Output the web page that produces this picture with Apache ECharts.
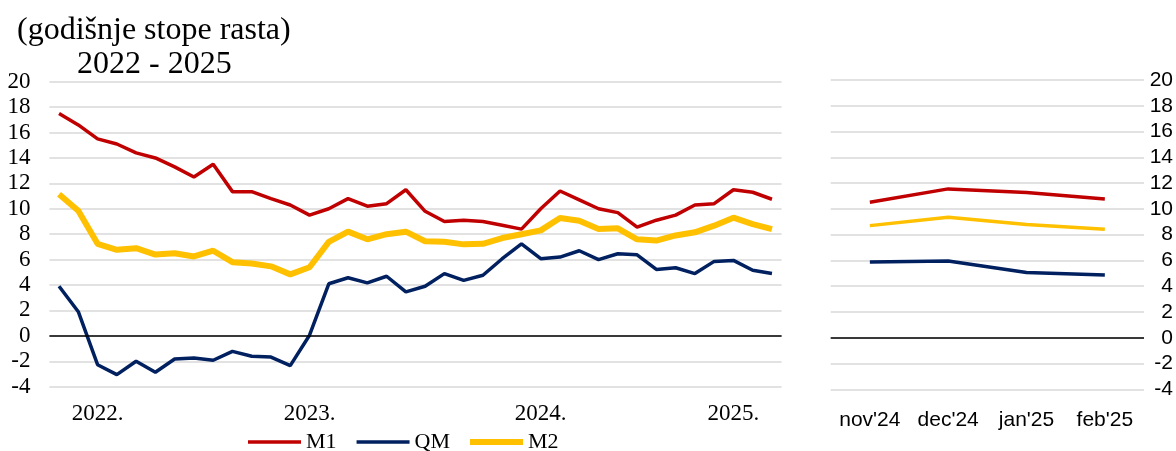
<!DOCTYPE html>
<html>
<head>
<meta charset="utf-8">
<script src="https://cdn.jsdelivr.net/npm/echarts@6/dist/echarts.min.js"></script>
<style>
  html, body { margin: 0; padding: 0; background: #fff; }
  #chart { width: 1176px; height: 451px; }
</style>
</head>
<body>
<div id="chart"></div>
<script>
// monthly categories, jan 2022 - feb 2025
var months = [
  '2022-01','2022-02','2022-03','2022-04','2022-05','2022-06','2022-07','2022-08','2022-09','2022-10','2022-11','2022-12',
  '2023-01','2023-02','2023-03','2023-04','2023-05','2023-06','2023-07','2023-08','2023-09','2023-10','2023-11','2023-12',
  '2024-01','2024-02','2024-03','2024-04','2024-05','2024-06','2024-07','2024-08','2024-09','2024-10','2024-11','2024-12',
  '2025-01','2025-02'
];
// where the year labels sit on the left axis
var yearLabelPos = [2, 13, 25, 35];
var yearLabels = ['2022.', '2023.', '2024.', '2025.'];

var m1 = [17.5,16.6,15.5,15.1,14.4,14.0,13.3,12.5,13.5,11.35,11.35,10.8,10.3,
  9.5,10.0,10.8,10.2,10.4,11.5,9.8,9.0,9.1,9.0,8.7,8.4,
  10.0,11.4,10.7,10.0,9.7,8.55,9.1,9.5,10.3,10.4,11.5,11.3,10.75];
var qm = [3.9,1.9,-2.27,-3.05,-2.0,-2.86,-1.82,-1.74,-1.92,-1.22,-1.6,-1.67,-2.34,
  0.05,4.1,4.57,4.17,4.69,3.46,3.9,4.9,4.37,4.77,6.07,7.24,
  6.07,6.2,6.7,6.0,6.46,6.38,5.23,5.36,4.9,5.86,5.94,5.16,4.9];
var m2 = [11.15,9.84,7.24,6.77,6.9,6.4,6.5,6.25,6.7,5.8,5.7,5.47,4.84,
  5.4,7.4,8.2,7.6,8.0,8.2,7.45,7.4,7.2,7.24,7.7,8.0,
  8.3,9.27,9.06,8.4,8.46,7.6,7.5,7.9,8.15,8.67,9.3,8.8,8.4];

// last four months, right panel
var monthsR = ["nov'24", "dec'24", "jan'25", "feb'25"];
var m1R = [10.52, 11.55, 11.27, 10.77];
var qmR = [5.88, 5.95, 5.07, 4.87];
var m2R = [8.7, 9.35, 8.78, 8.42];

var yTicks = { min: -4, max: 20, step: 2 };

var RED = '#C00000', NAVY = '#002060', GOLD = '#FFC000';
var serif = 'Liberation Serif', sans = 'Liberation Sans';

var chart = echarts.init(document.getElementById('chart'));

var zeroLine = {
  silent: true, symbol: 'none', label: { show: false },
  lineStyle: { color: '#000', width: 1.5, type: 'solid' },
  data: [{ yAxis: 0 }]
};

function lineSeries(name, data, color, width, idx, withZero) {
  var s = {
    name: name, type: 'line', data: data,
    xAxisIndex: idx, yAxisIndex: idx,
    showSymbol: false, symbol: 'none', smooth: false,
    lineStyle: { color: color, width: width },
    itemStyle: { color: color },
    z: 3
  };
  if (withZero) s.markLine = zeroLine;
  return s;
}

// flat bars used as legend keys
var thinKey = 'path://M0,0 H53 V3.5 H0 Z';
var thickKey = 'path://M0,0 H53 V6 H0 Z';

var option = {
  animation: false,
  backgroundColor: '#fff',
  title: [
    { text: '(godišnje stope rasta)', left: 12, top: 10,
      textStyle: { fontFamily: serif, fontSize: 32, fontWeight: 'normal', color: '#000' } },
    { text: '2022 - 2025', left: 72, top: 44,
      textStyle: { fontFamily: serif, fontSize: 32, fontWeight: 'normal', color: '#000' } }
  ],
  legend: {
    data: [
      { name: 'M1', icon: thinKey },
      { name: 'QM', icon: thinKey },
      { name: 'M2', icon: thickKey }
    ],
    left: 243, top: 426,
    itemWidth: 53, itemHeight: 14, itemGap: 20,
    textStyle: { fontFamily: serif, fontSize: 22, color: '#000' }
  },
  grid: [
    { left: 49.4, top: 81.7, width: 732.2, height: 305 },
    { left: 830.7, top: 80, width: 313.3, height: 309.3 }
  ],
  xAxis: [
    {
      type: 'category', gridIndex: 0, data: months, boundaryGap: true,
      axisLine: { show: false }, axisTick: { show: false },
      axisLabel: {
        interval: 0, margin: 16,
        fontFamily: serif, fontSize: 23, color: '#000',
        formatter: function (v, i) {
          var k = yearLabelPos.indexOf(i);
          return k >= 0 ? yearLabels[k] : '';
        }
      }
    },
    {
      type: 'category', gridIndex: 1, data: monthsR, boundaryGap: true,
      axisLine: { show: false }, axisTick: { show: false },
      axisLabel: { interval: 0, margin: 20, fontFamily: sans, fontSize: 21, color: '#000' }
    }
  ],
  yAxis: [
    {
      type: 'value', gridIndex: 0, min: yTicks.min, max: yTicks.max, interval: yTicks.step,
      axisLine: { show: false }, axisTick: { show: false },
      axisLabel: { margin: 19, fontFamily: serif, fontSize: 23, color: '#000' },
      splitLine: { lineStyle: { color: '#D9D9D9', width: 1.5 } }
    },
    {
      type: 'value', gridIndex: 1, position: 'right',
      min: yTicks.min, max: yTicks.max, interval: yTicks.step,
      axisLine: { show: false }, axisTick: { show: false },
      axisLabel: { margin: 29, align: 'right', fontFamily: sans, fontSize: 21, color: '#000' },
      splitLine: { lineStyle: { color: '#D9D9D9', width: 1.5 } }
    }
  ],
  series: [
    lineSeries('M1', m1, RED, 3.5, 0, true),
    lineSeries('QM', qm, NAVY, 3.5, 0, false),
    lineSeries('M2', m2, GOLD, 6, 0, false),
    lineSeries('M1 right', m1R, RED, 3.5, 1, true),
    lineSeries('QM right', qmR, NAVY, 3.5, 1, false),
    lineSeries('M2 right', m2R, GOLD, 3.5, 1, false)
  ]
};

chart.setOption(option);
</script>
</body>
</html>
